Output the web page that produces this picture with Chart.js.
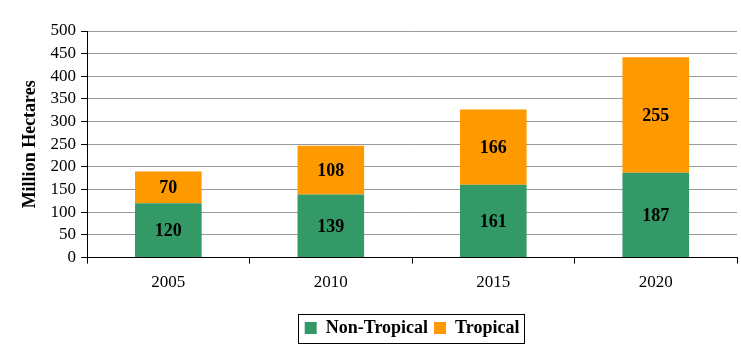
<!DOCTYPE html>
<html>
<head>
<meta charset="utf-8">
<script src="https://cdn.jsdelivr.net/npm/chart.js@4/dist/chart.umd.min.js"></script>
<style>
  body { margin: 0; background: #fff; }
  #wrap { width: 741px; height: 352px; }
</style>
</head>
<body>
<div id="wrap"><canvas id="grafico" width="741" height="352"></canvas></div>
<script>
const anos = ["2005", "2010", "2015", "2020"];
const naoTropical = [120, 139, 161, 187];
const tropical = [70, 108, 166, 255];
const yTicks = [0, 50, 100, 150, 200, 250, 300, 350, 400, 450, 500];

const fonte = "'Liberation Serif', 'Times New Roman', serif";

// rótulos de valor no centro de cada segmento
const rotulos = {
    id: 'rotulos',
    afterDatasetsDraw(chart) {
        const ctx = chart.ctx;
        ctx.save();
        ctx.font = "bold 18px " + fonte;
        ctx.fillStyle = "#000";
        ctx.textAlign = "center";
        ctx.textBaseline = "middle";
        chart.data.datasets.forEach((ds, i) => {
            chart.getDatasetMeta(i).data.forEach((bar, j) => {
                const meio = (bar.y + bar.base) / 2;
                ctx.fillText(ds.data[j], bar.x, meio + 1);
            });
        });
        ctx.restore();
    }
};

// legenda centrada na área do gráfico, com borda preta
const bordaLegenda = {
    id: 'bordaLegenda',
    afterLayout(chart) {
        const leg = chart.legend;
        const dx = (chart.chartArea.left + chart.chartArea.right) / 2 - (leg.left + leg.right) / 2;
        leg.left += dx;
        leg.right += dx;
        (leg.legendHitBoxes || []).forEach(b => { b.left += dx; });
    },
    afterDraw(chart) {
        const caixas = chart.legend.legendHitBoxes;
        if (!caixas || !caixas.length) return;
        let x1 = Infinity, y1 = Infinity, x2 = -Infinity, y2 = -Infinity;
        caixas.forEach(b => {
            x1 = Math.min(x1, b.left);
            y1 = Math.min(y1, b.top);
            x2 = Math.max(x2, b.left + b.width);
            y2 = Math.max(y2, b.top + b.height);
        });
        const cy = (y1 + y2) / 2;
        const ctx = chart.ctx;
        ctx.save();
        ctx.strokeStyle = "#000";
        ctx.lineWidth = 1;
        ctx.strokeRect(Math.round(x1 - 7) + 0.5, Math.round(cy - 14) + 0.5, Math.round(x2 - x1 + 11), 29);
        ctx.restore();
    }
};

new Chart(document.getElementById('grafico').getContext('2d'), {
    type: 'bar',
    data: {
        labels: anos,
        datasets: [
            { label: "Non-Tropical", data: naoTropical, backgroundColor: "#339966", barPercentage: 0.41, categoryPercentage: 1 },
            { label: "Tropical", data: tropical, backgroundColor: "#FF9900", barPercentage: 0.41, categoryPercentage: 1 }
        ]
    },
    options: {
        responsive: false,
        animation: false,
        layout: { padding: { left: 20, right: 4, top: 31, bottom: 5 } },
        scales: {
            x: {
                stacked: true,
                afterFit: (s) => { s.height += 11; },
                grid: { offset: true, drawOnChartArea: false, tickLength: 6, color: "#000" },
                border: { color: "#000", width: 1 },
                ticks: { color: "#000", font: { family: fonte, size: 17 }, padding: 9 }
            },
            y: {
                stacked: true,
                min: 0,
                max: 500,
                afterBuildTicks: (axis) => { axis.ticks = yTicks.map(v => ({ value: v })); },
                grid: { color: "#999", tickLength: 6, tickColor: "#000" },
                border: { color: "#000", width: 1 },
                ticks: { color: "#000", font: { family: fonte, size: 17 }, padding: 5, autoSkip: false },
                title: {
                    display: true,
                    text: "Million Hectares",
                    color: "#000",
                    font: { family: fonte, size: 18, weight: "bold" },
                    padding: { top: 0, bottom: 4 }
                }
            }
        },
        plugins: {
            legend: {
                position: 'bottom',
                labels: {
                    color: "#000",
                    boxWidth: 12,
                    boxHeight: 12,
                    padding: 6,
                    font: { family: fonte, size: 18, weight: "bold" }
                }
            },
            tooltip: { enabled: false }
        }
    },
    plugins: [rotulos, bordaLegenda]
});
</script>
</body>
</html>
